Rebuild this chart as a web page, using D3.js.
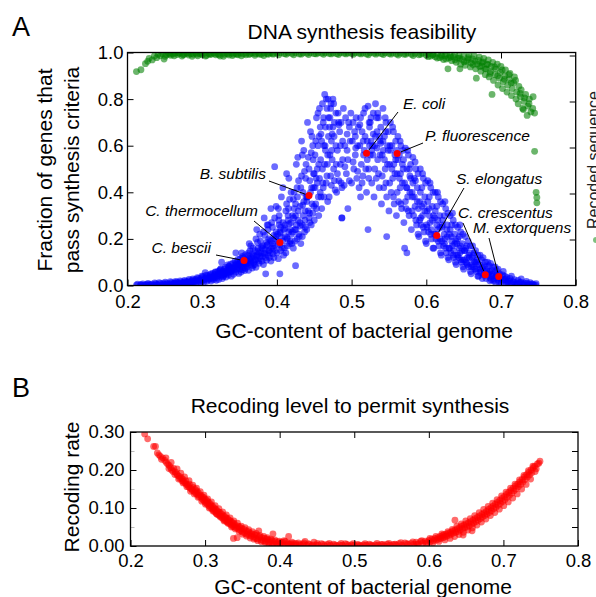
<!DOCTYPE html>
<html>
<head>
<meta charset="utf-8">
<script src="https://cdn.jsdelivr.net/npm/d3@7"></script>
<style>
  body { margin: 0; background: #fff; }
  svg { display: block; font-family: "Liberation Sans", Arial, sans-serif; }
</style>
</head>
<body>
<svg id="chart" width="596" height="597"></svg>
<script>
// ---- data ----
// panel A: fraction of genes passing synthesis criteria vs GC content
const bluePoints = [
  [0.212,0.002],[0.218,0.004],[0.222,0.001],[0.226,0.005],[0.229,0.003],[0.231,0.004],[0.235,0.002],[0.238,0.007],
  [0.241,0.003],[0.244,0.008],[0.246,0.001],[0.249,0.006],[0.251,0.004],[0.253,0.010],[0.256,0.002],[0.258,0.007],[0.259,0.012],
  [0.261,0.005],[0.263,0.011],[0.265,0.003],[0.266,0.014],[0.268,0.008],[0.269,0.002],
  [0.271,0.009],[0.272,0.015],[0.274,0.004],[0.275,0.012],[0.277,0.018],[0.278,0.007],[0.279,0.013],
  [0.281,0.010],[0.282,0.020],[0.283,0.006],[0.285,0.016],[0.286,0.012],[0.287,0.023],[0.288,0.008],[0.289,0.018],
  [0.290,0.014],[0.291,0.026],[0.292,0.010],[0.293,0.020],[0.295,0.030],[0.296,0.016],[0.297,0.024],[0.298,0.012],[0.299,0.033],
  [0.300,0.020],[0.301,0.038],[0.302,0.014],[0.303,0.027],[0.304,0.055],[0.305,0.032],[0.306,0.018],[0.307,0.042],[0.308,0.024],[0.309,0.035],
  [0.310,0.028],[0.311,0.046],[0.312,0.019],[0.313,0.038],[0.314,0.052],[0.315,0.025],[0.316,0.041],[0.317,0.033],[0.318,0.056],[0.319,0.022],[0.314,0.030],[0.317,0.048],
  [0.320,0.035],[0.321,0.060],[0.322,0.026],[0.323,0.048],[0.324,0.068],[0.325,0.040],[0.326,0.100],[0.326,0.055],[0.327,0.030],[0.328,0.062],[0.329,0.044],[0.322,0.052],[0.325,0.072],[0.328,0.038],
  [0.330,0.050],[0.331,0.078],[0.332,0.036],[0.333,0.065],[0.334,0.088],[0.335,0.045],[0.336,0.072],[0.337,0.058],[0.338,0.092],[0.339,0.040],[0.331,0.060],[0.334,0.052],[0.336,0.083],[0.338,0.068],[0.339,0.076],
  [0.340,0.062],[0.341,0.095],[0.342,0.048],[0.343,0.080],[0.344,0.105],[0.345,0.140],[0.345,0.058],[0.346,0.088],[0.347,0.070],[0.348,0.112],[0.349,0.052],[0.341,0.075],[0.343,0.066],[0.346,0.098],[0.348,0.082],[0.349,0.092],
  [0.350,0.070],[0.351,0.115],[0.352,0.058],[0.353,0.092],[0.354,0.125],[0.355,0.078],[0.356,0.104],[0.357,0.064],[0.358,0.132],[0.359,0.088],[0.351,0.082],[0.352,0.100],[0.354,0.068],[0.355,0.118],[0.357,0.096],[0.358,0.074],[0.359,0.110],[0.353,0.140],
  [0.360,0.080],[0.361,0.128],[0.362,0.065],[0.363,0.105],[0.364,0.150],[0.365,0.090],[0.366,0.118],[0.367,0.075],[0.368,0.160],[0.369,0.100],[0.361,0.095],[0.362,0.140],[0.364,0.112],[0.365,0.170],[0.367,0.135],[0.368,0.085],[0.369,0.125],[0.363,0.180],
  [0.370,0.090],[0.371,0.150],[0.372,0.078],[0.373,0.125],[0.374,0.185],[0.375,0.105],[0.376,0.140],[0.377,0.220],[0.378,0.115],[0.379,0.165],[0.371,0.108],[0.372,0.200],[0.374,0.132],[0.375,0.160],[0.376,0.095],[0.378,0.190],[0.379,0.140],[0.373,0.240],
  [0.380,0.105],[0.381,0.170],[0.382,0.090],[0.383,0.140],[0.384,0.215],[0.385,0.050],[0.385,0.120],[0.386,0.185],[0.387,0.260],[0.388,0.130],[0.389,0.200],[0.381,0.125],[0.382,0.230],[0.384,0.155],[0.386,0.108],[0.387,0.175],[0.388,0.240],[0.389,0.150],[0.383,0.290],
  [0.390,0.120],[0.391,0.195],[0.392,0.330],[0.392,0.105],[0.393,0.160],[0.394,0.250],[0.395,0.135],[0.396,0.215],[0.397,0.510],[0.397,0.290],[0.398,0.150],[0.399,0.230],[0.391,0.140],[0.393,0.270],[0.394,0.180],[0.396,0.120],[0.398,0.200],[0.399,0.340],[0.395,0.170],
  [0.400,0.140],[0.401,0.220],[0.402,0.115],[0.403,0.300],[0.404,0.050],[0.404,0.175],[0.405,0.250],[0.406,0.380],[0.407,0.160],[0.408,0.270],[0.409,0.130],[0.401,0.190],[0.402,0.330],[0.404,0.230],[0.405,0.150],[0.406,0.205],[0.408,0.420],[0.409,0.240],[0.403,0.260],
  [0.410,0.160],[0.411,0.260],[0.412,0.140],[0.413,0.350],[0.414,0.200],[0.415,0.300],[0.416,0.460],[0.417,0.180],[0.418,0.240],[0.419,0.400],[0.411,0.210],[0.412,0.320],[0.414,0.170],[0.415,0.280],[0.416,0.230],[0.417,0.370],[0.418,0.190],[0.419,0.270],[0.413,0.480],
  [0.420,0.180],[0.421,0.300],[0.422,0.160],[0.423,0.400],[0.424,0.240],[0.425,0.085],[0.425,0.350],[0.426,0.520],[0.427,0.200],[0.428,0.280],[0.429,0.450],[0.421,0.230],[0.422,0.370],[0.424,0.190],[0.425,0.300],[0.426,0.260],[0.427,0.420],[0.428,0.550],[0.429,0.220],[0.423,0.330],
  [0.430,0.210],[0.431,0.340],[0.432,0.180],[0.433,0.470],[0.434,0.260],[0.434,0.210],[0.435,0.400],[0.436,0.580],[0.437,0.230],[0.438,0.320],[0.439,0.520],[0.431,0.270],[0.432,0.420],[0.433,0.620],[0.435,0.300],[0.436,0.360],[0.437,0.490],[0.438,0.250],[0.439,0.380],[0.434,0.560],
  [0.440,0.240],[0.441,0.380],[0.442,0.550],[0.443,0.290],[0.444,0.450],[0.445,0.660],[0.446,0.260],[0.447,0.350],[0.448,0.310],[0.448,0.600],[0.449,0.420],[0.441,0.700],[0.442,0.320],[0.443,0.500],[0.444,0.270],[0.445,0.400],[0.446,0.570],[0.447,0.640],[0.449,0.480],[0.440,0.360],
  [0.450,0.280],[0.451,0.420],[0.452,0.620],[0.453,0.330],[0.454,0.500],[0.455,0.740],[0.456,0.300],[0.457,0.460],[0.458,0.680],[0.459,0.380],[0.451,0.560],[0.452,0.350],[0.453,0.720],[0.454,0.440],[0.455,0.600],[0.456,0.520],[0.457,0.760],[0.458,0.400],[0.459,0.650],[0.450,0.480],
  [0.460,0.330],[0.461,0.500],[0.462,0.700],[0.463,0.380],[0.464,0.820],[0.465,0.580],[0.466,0.440],[0.467,0.760],[0.468,0.360],[0.469,0.640],[0.461,0.780],[0.462,0.420],[0.463,0.600],[0.464,0.520],[0.465,0.680],[0.466,0.800],[0.467,0.470],[0.468,0.560],[0.469,0.720],[0.460,0.620],
  [0.470,0.380],[0.471,0.560],[0.472,0.760],[0.473,0.430],[0.474,0.650],[0.475,0.800],[0.476,0.500],[0.477,0.700],[0.478,0.410],[0.479,0.600],[0.471,0.720],[0.472,0.470],[0.474,0.540],[0.475,0.680],[0.476,0.780],[0.477,0.450],[0.479,0.740],[0.473,0.620],
  [0.480,0.400],[0.481,0.580],[0.482,0.740],[0.483,0.450],[0.484,0.660],[0.485,0.520],[0.486,0.700],[0.487,0.290],[0.487,0.290],[0.487,0.420],[0.488,0.620],[0.489,0.760],[0.481,0.480],[0.483,0.690],[0.485,0.600],[0.486,0.440],[0.488,0.540],
  [0.490,0.430],[0.491,0.600],[0.492,0.720],[0.493,0.480],[0.494,0.650],[0.495,0.330],[0.495,0.540],[0.496,0.700],[0.497,0.450],[0.498,0.620],[0.499,0.740],[0.491,0.510],[0.494,0.580],[0.497,0.680],
  [0.500,0.440],[0.501,0.620],[0.502,0.700],[0.503,0.500],[0.504,0.660],[0.505,0.560],[0.506,0.720],[0.507,0.460],[0.508,0.600],[0.509,0.680],[0.502,0.530],[0.505,0.640],[0.508,0.490],
  [0.510,0.420],[0.511,0.600],[0.512,0.380],[0.512,0.720],[0.513,0.520],[0.514,0.660],[0.515,0.470],[0.516,0.740],[0.517,0.580],[0.518,0.640],[0.519,0.500],[0.511,0.690],[0.514,0.440],[0.516,0.560],[0.518,0.760],
  [0.520,0.400],[0.521,0.620],[0.522,0.770],[0.523,0.500],[0.524,0.680],[0.525,0.560],[0.526,0.720],[0.527,0.440],[0.528,0.600],[0.529,0.650],[0.521,0.540],[0.522,0.240],[0.523,0.460],[0.524,0.600],[0.525,0.700],[0.526,0.620],[0.527,0.580],[0.529,0.740],
  [0.530,0.380],[0.531,0.600],[0.532,0.780],[0.533,0.460],[0.534,0.660],[0.535,0.540],[0.536,0.720],[0.537,0.420],[0.538,0.620],[0.539,0.680],[0.531,0.500],[0.532,0.640],[0.534,0.590],[0.535,0.740],[0.536,0.480],[0.538,0.560],[0.539,0.610],
  [0.540,0.350],[0.541,0.560],[0.542,0.760],[0.543,0.420],[0.544,0.640],[0.545,0.500],[0.546,0.700],[0.547,0.210],[0.547,0.380],[0.548,0.600],[0.549,0.660],[0.541,0.470],[0.542,0.620],[0.544,0.540],[0.545,0.720],[0.546,0.440],[0.548,0.520],[0.549,0.580],
  [0.550,0.320],[0.551,0.520],[0.552,0.700],[0.553,0.400],[0.554,0.600],[0.555,0.460],[0.556,0.660],[0.557,0.350],[0.558,0.560],[0.559,0.620],[0.551,0.440],[0.552,0.580],[0.554,0.500],[0.555,0.680],[0.556,0.380],[0.558,0.480],[0.559,0.540],
  [0.560,0.300],[0.561,0.480],[0.562,0.640],[0.563,0.360],[0.564,0.560],[0.565,0.420],[0.566,0.600],[0.567,0.330],[0.568,0.520],[0.569,0.580],[0.561,0.400],[0.562,0.540],[0.564,0.460],[0.565,0.620],[0.566,0.350],[0.568,0.440],[0.569,0.500],
  [0.570,0.270],[0.571,0.440],[0.572,0.590],[0.573,0.330],[0.574,0.140],[0.574,0.500],[0.575,0.380],[0.576,0.560],[0.577,0.300],[0.578,0.470],[0.579,0.520],[0.571,0.160],[0.572,0.360],[0.574,0.420],[0.575,0.580],[0.576,0.320],[0.578,0.400],[0.579,0.460],
  [0.580,0.240],[0.581,0.400],[0.582,0.550],[0.583,0.300],[0.584,0.460],[0.585,0.340],[0.586,0.500],[0.587,0.260],[0.588,0.420],[0.589,0.480],[0.581,0.320],[0.582,0.440],[0.584,0.380],[0.585,0.530],[0.586,0.280],[0.588,0.360],[0.589,0.220],
  [0.590,0.210],[0.591,0.360],[0.592,0.500],[0.593,0.260],[0.594,0.420],[0.595,0.300],[0.596,0.460],[0.597,0.230],[0.598,0.380],[0.599,0.440],[0.591,0.280],[0.592,0.400],[0.594,0.340],[0.595,0.480],[0.596,0.250],[0.598,0.320],[0.599,0.190],
  [0.600,0.180],[0.601,0.320],[0.602,0.450],[0.603,0.230],[0.604,0.380],[0.605,0.270],[0.606,0.420],[0.607,0.200],[0.608,0.340],[0.609,0.400],[0.601,0.250],[0.602,0.360],[0.604,0.300],[0.605,0.440],[0.606,0.220],[0.608,0.280],[0.609,0.160],
  [0.610,0.160],[0.611,0.290],[0.612,0.400],[0.613,0.200],[0.614,0.340],[0.615,0.240],[0.616,0.380],[0.617,0.170],[0.618,0.300],[0.619,0.360],[0.611,0.220],[0.612,0.320],[0.614,0.260],[0.615,0.400],[0.616,0.190],[0.618,0.250],[0.619,0.140],
  [0.620,0.130],[0.621,0.250],[0.622,0.350],[0.623,0.170],[0.624,0.300],[0.625,0.200],[0.626,0.330],[0.627,0.140],[0.628,0.260],[0.629,0.310],[0.621,0.190],[0.622,0.280],[0.624,0.220],[0.625,0.360],[0.626,0.160],[0.628,0.210],[0.629,0.120],
  [0.630,0.110],[0.631,0.220],[0.632,0.300],[0.633,0.140],[0.634,0.260],[0.635,0.170],[0.636,0.280],[0.637,0.120],[0.638,0.220],[0.639,0.260],[0.631,0.160],[0.632,0.240],[0.634,0.190],[0.635,0.310],[0.636,0.130],[0.638,0.180],[0.639,0.100],
  [0.640,0.090],[0.641,0.180],[0.642,0.250],[0.643,0.120],[0.644,0.210],[0.645,0.140],[0.646,0.230],[0.647,0.100],[0.648,0.180],[0.649,0.220],[0.641,0.130],[0.642,0.200],[0.644,0.160],[0.645,0.260],[0.646,0.110],[0.648,0.150],[0.649,0.080],
  [0.650,0.070],[0.651,0.150],[0.652,0.210],[0.653,0.100],[0.654,0.170],[0.655,0.120],[0.656,0.190],[0.657,0.080],[0.658,0.140],[0.659,0.170],[0.651,0.110],[0.653,0.160],[0.655,0.090],[0.657,0.130],[0.659,0.060],
  [0.660,0.050],[0.661,0.120],[0.662,0.170],[0.663,0.080],[0.664,0.140],[0.665,0.100],[0.666,0.150],[0.667,0.060],[0.668,0.110],[0.669,0.130],[0.661,0.090],[0.663,0.130],[0.665,0.070],[0.667,0.100],[0.669,0.040],
  [0.670,0.040],[0.671,0.090],[0.672,0.130],[0.673,0.060],[0.674,0.110],[0.675,0.075],[0.676,0.120],[0.677,0.045],[0.678,0.085],[0.679,0.100],[0.672,0.070],[0.675,0.030],[0.678,0.060],
  [0.680,0.030],[0.681,0.070],[0.682,0.100],[0.683,0.045],[0.684,0.085],[0.685,0.060],[0.686,0.095],[0.687,0.025],[0.688,0.065],[0.689,0.080],[0.682,0.050],[0.685,0.020],[0.688,0.040],
  [0.690,0.020],[0.691,0.055],[0.692,0.080],[0.693,0.035],[0.694,0.065],[0.695,0.045],[0.696,0.070],[0.697,0.015],[0.698,0.050],[0.699,0.030],[0.693,0.010],
  [0.700,0.015],[0.702,0.045],[0.703,0.060],[0.704,0.025],[0.705,0.040],[0.707,0.010],[0.708,0.035],[0.709,0.020],
  [0.710,0.010],[0.712,0.030],[0.714,0.040],[0.716,0.015],[0.718,0.025],[0.719,0.005],
  [0.721,0.008],[0.723,0.022],[0.725,0.012],[0.727,0.028],[0.729,0.004],
  [0.731,0.010],[0.734,0.018],[0.736,0.004],[0.739,0.012],[0.741,0.006],[0.744,0.002],[0.747,0.008],
  // denser low tail and the two flanks
  [0.2135,0.006],[0.2175,0.001],[0.2205,0.007],[0.2245,0.003],[0.2275,0.009],[0.2325,0.006],[0.2365,0.011],[0.2395,0.004],[0.2425,0.012],[0.2475,0.009],
  [0.2505,0.014],[0.2545,0.006],[0.2575,0.016],[0.2625,0.009],[0.2645,0.018],[0.2675,0.011],[0.2705,0.020],[0.2735,0.010],[0.2765,0.022],[0.2795,0.015],
  [0.2825,0.026],[0.2845,0.013],[0.2875,0.028],[0.2905,0.020],[0.2935,0.034],[0.2965,0.022],[0.2995,0.040],[0.3025,0.026],[0.3055,0.044],[0.3085,0.030],
  [0.3115,0.050],[0.3145,0.036],[0.3175,0.058],[0.3205,0.042],[0.3235,0.064],[0.3265,0.046],[0.3295,0.070],[0.3325,0.054],[0.3355,0.080],[0.3385,0.060],
  [0.3415,0.070],[0.3445,0.090],[0.3475,0.078],[0.3505,0.096],[0.3535,0.084],[0.3565,0.108],[0.3595,0.094],[0.3625,0.115],[0.3655,0.100],[0.3685,0.128],
  [0.3715,0.112],[0.3745,0.145],[0.3775,0.125],[0.3805,0.160],[0.3835,0.136],[0.3865,0.172],[0.3895,0.148],[0.3925,0.190],[0.3955,0.160],[0.3985,0.210],
  [0.4015,0.175],[0.4045,0.225],[0.4075,0.190],[0.4105,0.245],[0.4135,0.205],[0.4165,0.265],[0.4195,0.220],[0.4225,0.290],[0.4255,0.240],[0.4285,0.320],
  [0.4315,0.255],[0.4345,0.345],[0.4375,0.280],[0.4405,0.380],[0.4435,0.310],[0.4465,0.420],[0.4495,0.340],[0.4525,0.460],[0.4555,0.380],[0.4585,0.540],
  [0.4615,0.440],[0.4645,0.600],[0.4675,0.520],[0.4705,0.680],[0.4735,0.580],[0.4765,0.640],[0.4795,0.520],[0.4825,0.700],[0.3885,0.260],[0.4025,0.280],
  [0.4155,0.330],[0.4275,0.380],[0.4385,0.460],[0.4485,0.540],[0.4565,0.640],[0.4625,0.720],[0.4685,0.800],[0.4725,0.780],
  [0.5055,0.590],[0.5155,0.620],[0.5235,0.700],[0.5285,0.560],[0.5335,0.720],[0.5375,0.640],[0.5425,0.580],[0.5455,0.660],[0.5515,0.600],[0.5565,0.520],
  [0.5605,0.580],[0.5655,0.480],[0.5695,0.540],[0.5735,0.420],[0.5775,0.500],[0.5815,0.380],[0.5855,0.450],[0.5895,0.330],
  [0.5925,0.290],[0.5965,0.350],[0.6005,0.260],[0.6035,0.330],[0.6065,0.240],[0.6095,0.300],[0.6125,0.220],[0.6155,0.280],[0.6185,0.200],[0.6215,0.260],
  [0.6245,0.180],[0.6275,0.240],[0.6305,0.160],[0.6335,0.210],[0.6365,0.150],[0.6395,0.190],[0.6425,0.130],[0.6455,0.170],[0.6485,0.110],[0.6515,0.150],
  [0.6545,0.095],[0.6575,0.120],[0.6605,0.080],[0.6635,0.105],[0.6665,0.070],[0.6695,0.090],[0.6725,0.055],[0.6755,0.080],[0.6785,0.045],[0.6815,0.060],
  [0.6845,0.035],[0.6875,0.050],[0.6905,0.028],[0.6935,0.042],[0.6965,0.022],[0.6995,0.032],[0.7025,0.018],[0.7055,0.028],[0.7085,0.012],[0.7115,0.020],
  [0.7145,0.008],[0.7175,0.015],[0.7225,0.006],[0.7265,0.014],[0.7305,0.004],[0.7345,0.009],[0.7385,0.003],[0.7425,0.007],[0.7465,0.002]
];

const greenPoints = [
  [0.212,0.918],[0.218,0.926],[0.224,0.952],[0.227,0.962],[0.229,0.975],[0.233,0.968],[0.236,0.985],[0.239,0.978],[0.241,0.992],[0.244,0.986],
  [0.247,0.995],[0.249,0.972],[0.252,0.990],[0.255,0.997],[0.258,0.988],[0.261,0.994],[0.264,0.998],[0.267,0.991],[0.270,0.996],[0.273,0.985],
  [0.276,0.993],[0.279,0.998],[0.282,0.989],[0.285,0.995],[0.288,0.992],[0.291,0.998],[0.294,0.986],[0.297,0.994],[0.300,0.990],[0.303,0.997],
  [0.306,0.988],[0.309,0.995],[0.312,0.992],[0.315,0.998],[0.318,0.990],[0.321,0.995],[0.324,0.985],[0.327,0.997],[0.330,0.992],[0.333,0.996],
  [0.336,0.989],[0.339,0.998],[0.342,0.993],[0.345,0.996],[0.348,0.990],[0.351,0.998],[0.355,0.994],[0.359,0.997],[0.363,0.991],[0.367,0.998],
  [0.371,0.995],[0.375,0.997],[0.379,0.992],[0.383,0.998],[0.387,0.995],[0.391,0.998],[0.395,0.993],[0.400,0.997],[0.405,0.999],[0.410,0.995],
  [0.415,0.998],[0.420,0.996],[0.425,0.999],[0.430,0.994],[0.435,0.998],[0.440,0.997],[0.445,0.999],[0.450,0.995],[0.455,0.998],[0.460,0.997],
  [0.465,0.999],[0.470,0.996],[0.475,0.998],[0.480,0.995],[0.485,0.999],[0.490,0.997],[0.495,0.998],[0.500,0.996],[0.505,0.999],[0.510,0.997],
  [0.515,0.998],[0.520,0.994],[0.525,0.999],[0.530,0.997],[0.535,0.998],[0.540,0.995],[0.545,0.999],[0.550,0.996],[0.555,0.998],[0.560,0.994],
  [0.565,0.997],[0.570,0.993],[0.575,0.998],[0.580,0.992],[0.585,0.996],[0.590,0.990],[0.595,0.997],[0.600,0.988],[0.603,0.995],[0.606,0.985],
  [0.609,0.993],[0.612,0.982],[0.615,0.996],[0.618,0.978],[0.620,0.990],[0.623,0.970],[0.625,0.986],[0.627,0.994],[0.629,0.930],[0.630,0.976],
  [0.632,0.988],[0.634,0.965],[0.636,0.982],[0.638,0.992],[0.640,0.958],[0.642,0.975],[0.644,0.986],[0.645,0.930],[0.646,0.950],[0.648,0.970],
  [0.650,0.984],[0.652,0.945],[0.654,0.962],[0.656,0.978],[0.657,0.990],[0.659,0.938],[0.660,0.955],[0.662,0.972],[0.664,0.985],[0.666,0.930],
  [0.667,0.890],[0.668,0.950],[0.670,0.966],[0.671,0.980],[0.673,0.920],[0.674,0.942],[0.676,0.960],[0.677,0.975],[0.679,0.905],[0.680,0.930],
  [0.681,0.950],[0.683,0.968],[0.684,0.895],[0.686,0.918],[0.687,0.940],[0.688,0.820],[0.689,0.958],[0.690,0.880],[0.692,0.905],[0.693,0.930],
  [0.695,0.950],[0.696,0.860],[0.698,0.890],[0.699,0.915],[0.700,0.940],[0.702,0.845],[0.703,0.875],[0.705,0.900],[0.706,0.925],[0.708,0.830],
  [0.709,0.860],[0.711,0.885],[0.712,0.910],[0.714,0.815],[0.715,0.845],[0.717,0.870],[0.718,0.895],[0.720,0.800],[0.721,0.830],[0.723,0.780],
  [0.724,0.855],[0.726,0.810],[0.727,0.840],[0.729,0.760],[0.730,0.755],[0.731,0.790],[0.733,0.820],[0.735,0.730],[0.736,0.770],[0.738,0.800],
  [0.740,0.745],[0.743,0.810],[0.745,0.740],[0.745,0.576],[0.747,0.400],[0.748,0.378],[0.748,0.355],
  [0.2505,0.984],[0.2565,0.993],[0.2625,0.986],[0.2685,0.998],[0.2745,0.990],[0.2805,0.996],[0.2865,0.984],[0.2925,0.993],[0.2985,0.997],[0.3045,0.985],
  [0.3105,0.992],[0.3165,0.996],[0.3225,0.990],[0.3285,0.984],[0.3345,0.994],[0.3405,0.987],[0.3465,0.993],[0.3525,0.986],[0.3585,0.990],[0.3645,0.995],
  [0.3705,0.988],[0.3765,0.993],[0.3825,0.987],[0.3885,0.992],[0.3945,0.996],[0.4025,0.990],[0.4125,0.992],[0.4225,0.990],[0.4325,0.993],[0.4425,0.991],
  [0.4525,0.994],[0.4625,0.992],[0.4725,0.994],[0.4825,0.991],[0.4925,0.994],[0.5025,0.992],[0.5125,0.994],[0.5225,0.990],[0.5325,0.993],[0.5425,0.991],
  [0.5525,0.993],[0.5625,0.989],[0.5725,0.992],[0.5825,0.987],[0.5925,0.992],[0.6025,0.982],[0.6085,0.990],[0.6145,0.976],[0.6205,0.984],[0.6265,0.972],
  [0.6325,0.980],[0.6385,0.968],[0.6445,0.976],[0.6505,0.960],[0.6565,0.970],[0.6625,0.948],[0.6655,0.962],[0.6715,0.940],[0.6745,0.956],[0.6785,0.930],
  [0.6825,0.948],[0.6855,0.910],[0.6915,0.938],[0.6955,0.900],[0.7015,0.925],[0.7045,0.885],[0.7105,0.905],[0.7135,0.870],[0.7195,0.880],[0.7255,0.825],
  [0.7315,0.805],[0.7375,0.780],[0.7425,0.760]
];

// highlighted organisms (GC content, fraction passing)
const speciesNames = ["C. bescii", "C. thermocellum", "B. subtilis", "E. coli", "P. fluorescence", "S. elongatus", "C. crescentus", "M. extorquens"];
const speciesGC    = [0.356, 0.404, 0.443, 0.520, 0.561, 0.614, 0.679, 0.697];
const speciesFrac  = [0.107, 0.185, 0.386, 0.568, 0.567, 0.215, 0.046, 0.039];

// panel B: recoding rate needed vs GC content
const redPoints = [
  [0.219,0.295],[0.223,0.282],[0.231,0.262],[0.236,0.245],[0.238,0.240],[0.240,0.236],[0.243,0.232],[0.246,0.225],[0.248,0.220],[0.250,0.215],
  [0.252,0.212],[0.254,0.206],[0.255,0.200],[0.257,0.196],[0.258,0.204],[0.260,0.195],[0.262,0.190],[0.263,0.186],[0.265,0.184],[0.266,0.178],
  [0.268,0.180],[0.269,0.172],[0.270,0.176],[0.271,0.170],[0.273,0.166],[0.274,0.172],[0.275,0.162],[0.277,0.160],[0.278,0.155],[0.279,0.163],
  [0.280,0.152],[0.282,0.150],[0.283,0.146],[0.284,0.154],[0.286,0.142],[0.287,0.148],[0.288,0.138],[0.289,0.144],[0.290,0.135],[0.291,0.140],
  [0.292,0.130],[0.294,0.134],[0.295,0.126],[0.296,0.130],[0.297,0.122],[0.298,0.128],[0.299,0.118],[0.300,0.124],[0.301,0.114],[0.302,0.120],
  [0.303,0.110],[0.304,0.116],[0.305,0.106],[0.306,0.112],[0.307,0.102],[0.308,0.108],[0.309,0.098],[0.310,0.104],[0.311,0.095],[0.312,0.100],
  [0.313,0.090],[0.314,0.097],[0.315,0.086],[0.316,0.093],[0.317,0.083],[0.318,0.090],[0.319,0.080],[0.320,0.088],[0.321,0.078],[0.322,0.084],
  [0.323,0.074],[0.324,0.080],[0.325,0.070],[0.326,0.078],[0.327,0.068],[0.328,0.074],[0.329,0.064],[0.330,0.072],[0.331,0.062],[0.332,0.068],
  [0.333,0.058],[0.334,0.066],[0.335,0.056],[0.336,0.062],[0.337,0.052],[0.338,0.020],[0.338,0.060],[0.339,0.050],[0.340,0.056],[0.342,0.048],
  [0.343,0.022],[0.344,0.052],[0.345,0.044],[0.346,0.050],[0.348,0.040],[0.349,0.046],[0.350,0.037],[0.352,0.044],[0.353,0.034],[0.355,0.040],
  [0.356,0.031],[0.358,0.038],[0.359,0.028],[0.360,0.034],[0.362,0.026],[0.363,0.032],[0.365,0.024],[0.366,0.030],[0.368,0.020],[0.369,0.028],
  [0.370,0.018],[0.372,0.040],[0.373,0.024],[0.375,0.016],[0.376,0.022],[0.378,0.014],[0.380,0.020],[0.381,0.012],[0.383,0.018],[0.385,0.010],
  [0.386,0.016],[0.388,0.008],[0.390,0.014],[0.391,0.032],[0.392,0.007],[0.394,0.012],[0.396,0.006],[0.398,0.011],[0.400,0.005],[0.402,0.009],
  [0.404,0.004],[0.406,0.014],[0.408,0.003],[0.410,0.008],[0.412,0.025],[0.413,0.004],[0.415,0.007],[0.417,0.002],[0.419,0.006],[0.422,0.003],
  [0.425,0.008],[0.428,0.002],[0.431,0.005],[0.434,0.012],[0.436,0.002],[0.440,0.004],[0.443,0.001],[0.446,0.010],[0.449,0.003],[0.452,0.002],
  [0.456,0.006],[0.460,0.001],[0.464,0.004],[0.468,0.002],[0.472,0.005],[0.476,0.001],[0.480,0.003],[0.484,0.002],[0.488,0.006],[0.492,0.001],
  [0.496,0.003],[0.500,0.002],[0.504,0.004],[0.508,0.001],[0.512,0.003],[0.516,0.002],[0.520,0.005],[0.524,0.001],[0.528,0.003],[0.532,0.002],
  [0.536,0.004],[0.540,0.001],[0.544,0.005],[0.548,0.002],[0.552,0.004],[0.556,0.003],[0.560,0.006],[0.564,0.002],[0.568,0.008],[0.572,0.004],
  [0.576,0.007],[0.580,0.005],[0.583,0.010],[0.586,0.006],[0.589,0.012],[0.592,0.008],[0.595,0.013],[0.598,0.010],[0.600,0.015],[0.602,0.011],
  [0.604,0.018],[0.606,0.014],[0.608,0.020],[0.610,0.016],[0.612,0.022],[0.613,0.018],[0.615,0.025],[0.616,0.020],[0.618,0.027],[0.619,0.022],
  [0.620,0.030],[0.621,0.024],[0.623,0.031],[0.624,0.026],[0.626,0.034],[0.627,0.028],[0.629,0.036],[0.630,0.031],[0.632,0.040],[0.633,0.034],
  [0.635,0.068],[0.635,0.042],[0.636,0.036],[0.638,0.045],[0.639,0.038],[0.641,0.048],[0.642,0.042],[0.644,0.052],[0.645,0.045],[0.646,0.029],
  [0.647,0.055],[0.648,0.048],[0.650,0.058],[0.651,0.050],[0.653,0.061],[0.654,0.053],[0.656,0.064],[0.657,0.057],[0.658,0.040],[0.659,0.068],
  [0.660,0.060],[0.662,0.072],[0.663,0.064],[0.665,0.075],[0.666,0.068],[0.668,0.079],[0.669,0.072],[0.671,0.083],[0.672,0.076],[0.674,0.087],
  [0.675,0.080],[0.677,0.091],[0.678,0.084],[0.680,0.096],[0.681,0.088],[0.683,0.100],[0.684,0.093],[0.686,0.105],[0.687,0.098],[0.689,0.110],
  [0.690,0.102],[0.692,0.115],[0.693,0.107],[0.695,0.120],[0.696,0.112],[0.698,0.125],[0.699,0.117],[0.701,0.130],[0.702,0.122],[0.704,0.136],
  [0.705,0.128],[0.707,0.141],[0.708,0.133],[0.710,0.146],[0.711,0.139],[0.713,0.152],[0.714,0.145],[0.716,0.158],[0.717,0.150],[0.719,0.163],
  [0.720,0.156],[0.722,0.169],[0.723,0.162],[0.725,0.175],[0.726,0.168],[0.728,0.182],[0.729,0.175],[0.731,0.188],[0.732,0.181],[0.734,0.194],
  [0.735,0.187],[0.737,0.200],[0.738,0.193],[0.740,0.206],[0.742,0.210],[0.744,0.203],[0.749,0.223],
  [0.2335,0.262],[0.2415,0.228],[0.2475,0.232],[0.2515,0.204],[0.2545,0.220],[0.2595,0.188],[0.2625,0.203],[0.2645,0.176],[0.2675,0.192],[0.2705,0.166],
  [0.2725,0.182],[0.2755,0.156],[0.2785,0.172],[0.2805,0.144],[0.2835,0.160],[0.2855,0.137],[0.2885,0.152],[0.2905,0.128],[0.2935,0.143],[0.2955,0.118],
  [0.2985,0.134],[0.3005,0.110],[0.3035,0.124],[0.3055,0.100],[0.3085,0.116],[0.3105,0.092],[0.3135,0.106],[0.3155,0.084],[0.3185,0.098],[0.3205,0.076],
  [0.3235,0.090],[0.3255,0.066],[0.3285,0.082],[0.3305,0.060],[0.3335,0.074],[0.3355,0.050],[0.3385,0.066],[0.3405,0.045],[0.3435,0.060],[0.3455,0.038],
  [0.3485,0.052],[0.3505,0.031],[0.3535,0.048],[0.3555,0.026],[0.3585,0.043],[0.3605,0.021],[0.3635,0.038],[0.3655,0.018],[0.3685,0.033],[0.3705,0.014],
  [0.3735,0.028],[0.3755,0.011],[0.3785,0.025],[0.3805,0.009],[0.3835,0.022],[0.3855,0.006],[0.3885,0.018],[0.3905,0.005],[0.3935,0.016],[0.3965,0.004],
  [0.3995,0.013],[0.4035,0.010],[0.4075,0.012],[0.4115,0.006],[0.4165,0.010],[0.4215,0.007],[0.4265,0.004],[0.4325,0.008],[0.4385,0.006],[0.4445,0.003],
  [0.4505,0.007],[0.4585,0.004],[0.4665,0.007],[0.4745,0.003],[0.4825,0.007],[0.4905,0.004],[0.4985,0.006],[0.5065,0.003],[0.5145,0.006],[0.5225,0.003],
  [0.5305,0.007],[0.5385,0.004],[0.5465,0.007],[0.5545,0.005],[0.5625,0.009],[0.5705,0.006],[0.5785,0.011],[0.5845,0.004],[0.5905,0.014],[0.5965,0.006],
  [0.6015,0.020],[0.6055,0.008],[0.6095,0.025],[0.6135,0.012],[0.6175,0.032],[0.6215,0.016],[0.6255,0.038],[0.6285,0.020],[0.6315,0.044],[0.6345,0.025],
  [0.6375,0.052],[0.6405,0.030],[0.6435,0.058],[0.6465,0.036],[0.6495,0.066],[0.6525,0.042],[0.6555,0.072],[0.6585,0.048],[0.6615,0.080],[0.6645,0.055],
  [0.6675,0.088],[0.6705,0.063],[0.6735,0.096],[0.6765,0.071],[0.6795,0.104],[0.6825,0.080],[0.6855,0.113],[0.6885,0.088],[0.6915,0.122],[0.6945,0.097],
  [0.6975,0.132],[0.7005,0.106],[0.7035,0.142],[0.7065,0.116],[0.7095,0.152],[0.7125,0.126],[0.7155,0.163],[0.7185,0.137],[0.7215,0.174],[0.7245,0.150],
  [0.7275,0.186],[0.7305,0.162],[0.7335,0.198],[0.7365,0.176],[0.7395,0.210],[0.7425,0.196],[0.7455,0.216],[0.7475,0.218]
];

// ticks
const xTicks = [0.2, 0.3, 0.4, 0.5, 0.6, 0.7, 0.8];
const yTicksA = [0.0, 0.2, 0.4, 0.6, 0.8, 1.0];
const rightTicksA = [0.2, 0.4, 0.6, 0.8, 1.0];
const yTicksB = [0.0, 0.1, 0.2, 0.3];
const yMinorB = [0.05, 0.15, 0.25];
const rightTicksB = [0.05, 0.1, 0.15, 0.2, 0.25, 0.3];

// label placement for each organism: [text x, text baseline y, anchor, leader start x, leader start y]
const labelLayout = [
  [211, 253, "end", 216, 255],
  [258, 216, "end", 254, 221],
  [266, 179, "end", 269, 181],
  [403, 109, "start", 398, 112],
  [425, 141, "start", 423, 143],
  [456, 184, "start", 464, 188],
  [458, 218, "start", 463, 223],
  [473, 233, "start", 489, 238]
];

const svg = d3.select("#chart");
const fontTick = 18.5;
const fontLabel = 21;
const dotR = 3.4;
const dotAlpha = 0.58;

// scales
const xA = d3.scaleLinear().domain([0.2, 0.8]).range([127.5, 575.7]);
const yA = d3.scaleLinear().domain([0, 1]).range([285.5, 52.5]);
const yA2 = d3.scaleLinear().domain([0, 1]).range([285.5, 55.5]); // twin axis on the right
const xB = d3.scaleLinear().domain([0.2, 0.8]).range([130.5, 578]);
const yB = d3.scaleLinear().domain([0, 0.3]).range([546, 432]);

const defs = svg.append("defs");
defs.append("clipPath").attr("id", "clipA").append("rect")
  .attr("x", xA(0.2)).attr("y", yA(1)).attr("width", xA(0.8) - xA(0.2)).attr("height", yA(0) - yA(1));
defs.append("clipPath").attr("id", "clipB").append("rect")
  .attr("x", xB(0.2)).attr("y", yB(0.3)).attr("width", xB(0.8) - xB(0.2)).attr("height", yB(0) - yB(0.3));

function styleAxis(g, fs) {
  g.select(".domain").remove();
  g.selectAll(".tick line").attr("stroke", "#000").attr("stroke-width", 1);
  g.selectAll(".tick text").attr("fill", "#000").attr("font-size", fs)
    .attr("font-family", "Liberation Sans, Arial, sans-serif");
}

// ---------- panel A ----------
const pA = svg.append("g").attr("clip-path", "url(#clipA)");
pA.selectAll("circle.g").data(greenPoints).enter().append("circle")
  .attr("cx", d => xA(d[0])).attr("cy", d => yA(d[1])).attr("r", dotR)
  .attr("fill", "#008000").attr("fill-opacity", dotAlpha);
pA.selectAll("circle.b").data(bluePoints).enter().append("circle")
  .attr("cx", d => xA(d[0])).attr("cy", d => yA(d[1])).attr("r", dotR)
  .attr("fill", "#0000ff").attr("fill-opacity", dotAlpha);

// leaders + red markers + labels
speciesNames.forEach((name, i) => {
  const [tx, ty, anchor, lx, ly] = labelLayout[i];
  const px = xA(speciesGC[i]), py = yA(speciesFrac[i]);
  const dx = lx - px, dy = ly - py, len = Math.hypot(dx, dy);
  svg.append("line")
    .attr("x1", lx).attr("y1", ly)
    .attr("x2", px + dx / len * 4).attr("y2", py + dy / len * 4)
    .attr("stroke", "#000").attr("stroke-width", 1);
  svg.append("text").attr("x", tx).attr("y", ty).attr("text-anchor", anchor)
    .attr("font-size", 15.5).attr("font-style", "italic").text(name);
});
svg.selectAll("circle.sp").data(speciesGC).enter().append("circle")
  .attr("cx", d => xA(d)).attr("cy", (d, i) => yA(speciesFrac[i])).attr("r", 3.5)
  .attr("fill", "#ff0000");

svg.append("g").attr("transform", `translate(0,${yA(0)})`)
  .call(d3.axisBottom(xA).tickValues(xTicks).tickSize(-6).tickPadding(9).tickFormat(d3.format(".1f")))
  .call(g => styleAxis(g, fontTick));
svg.append("g").attr("transform", `translate(0,${yA(1)})`)
  .call(d3.axisTop(xA).tickValues(xTicks.slice(1, -1)).tickSize(-6).tickFormat(""))
  .call(g => styleAxis(g, fontTick));
svg.append("g").attr("transform", `translate(${xA(0.2)},0)`)
  .call(d3.axisLeft(yA).tickValues(yTicksA).tickSize(-6).tickPadding(4).tickFormat(d3.format(".1f")))
  .call(g => styleAxis(g, fontTick));
svg.append("g").attr("transform", `translate(${xA(0.8)},0)`)
  .call(d3.axisRight(yA2).tickValues(rightTicksA).tickSize(-6).tickFormat(""))
  .call(g => styleAxis(g, fontTick));
svg.append("rect").attr("x", xA(0.2)).attr("y", yA(1))
  .attr("width", xA(0.8) - xA(0.2)).attr("height", yA(0) - yA(1))
  .attr("fill", "none").attr("stroke", "#000").attr("stroke-width", 1.3);

svg.append("text").attr("x", 12).attr("y", 36).attr("font-size", 27).text("A");
svg.append("text").attr("x", 362).attr("y", 39).attr("text-anchor", "middle")
  .attr("font-size", fontLabel).text("DNA synthesis feasibility");
svg.append("text").attr("x", 364).attr("y", 338).attr("text-anchor", "middle")
  .attr("font-size", fontLabel).text("GC-content of bacterial genome");
svg.append("text").attr("transform", "translate(52,170) rotate(-90)").attr("text-anchor", "middle")
  .attr("font-size", fontLabel).text("Fraction of genes that");
svg.append("text").attr("transform", "translate(79,170) rotate(-90)").attr("text-anchor", "middle")
  .attr("font-size", fontLabel).text("pass synthesis criteria");
// twin-axis label, cut off at the figure edge as in the original
svg.append("text").attr("transform", "translate(599,229) rotate(-90)")
  .attr("font-size", 16).attr("fill", "#222").text("Recoded sequence");
svg.append("circle").attr("cx", 596).attr("cy", 240).attr("r", 3)
  .attr("fill", "#008000").attr("fill-opacity", 0.5);

// ---------- panel B ----------
const pB = svg.append("g").attr("clip-path", "url(#clipB)");
pB.selectAll("circle.r").data(redPoints).enter().append("circle")
  .attr("cx", d => xB(d[0])).attr("cy", d => yB(d[1])).attr("r", dotR)
  .attr("fill", "#ff0000").attr("fill-opacity", dotAlpha);

svg.append("g").attr("transform", `translate(0,${yB(0)})`)
  .call(d3.axisBottom(xB).tickValues(xTicks).tickSize(-6).tickPadding(8).tickFormat(d3.format(".1f")))
  .call(g => styleAxis(g, fontTick));
svg.append("g").attr("transform", `translate(0,${yB(0.3)})`)
  .call(d3.axisTop(xB).tickValues(xTicks.slice(1, -1)).tickSize(-6).tickFormat(""))
  .call(g => styleAxis(g, fontTick));
svg.append("g").attr("transform", `translate(${xB(0.2)},0)`)
  .call(d3.axisLeft(yB).tickValues(yTicksB).tickSize(-6).tickPadding(6).tickFormat(d3.format(".2f")))
  .call(g => styleAxis(g, fontTick));
svg.append("g").attr("transform", `translate(${xB(0.2)},0)`)
  .call(d3.axisLeft(yB).tickValues(yMinorB).tickSize(-4).tickFormat(""))
  .call(g => { styleAxis(g, fontTick); g.selectAll(".tick line").attr("stroke", "#bbb"); });
svg.append("g").attr("transform", `translate(${xB(0.8)},0)`)
  .call(d3.axisRight(yB).tickValues(rightTicksB).tickSize(-6).tickFormat(""))
  .call(g => styleAxis(g, fontTick));
svg.append("rect").attr("x", xB(0.2)).attr("y", yB(0.3))
  .attr("width", xB(0.8) - xB(0.2)).attr("height", yB(0) - yB(0.3))
  .attr("fill", "none").attr("stroke", "#000").attr("stroke-width", 1.3);

svg.append("text").attr("x", 12).attr("y", 397).attr("font-size", 27).text("B");
svg.append("text").attr("x", 350).attr("y", 413).attr("text-anchor", "middle")
  .attr("font-size", fontLabel).text("Recoding level to permit synthesis");
svg.append("text").attr("x", 363).attr("y", 594).attr("text-anchor", "middle")
  .attr("font-size", fontLabel).text("GC-content of bacterial genome");
svg.append("text").attr("transform", "translate(79,487) rotate(-90)").attr("text-anchor", "middle")
  .attr("font-size", fontLabel).text("Recoding rate");
</script>
</body>
</html>
